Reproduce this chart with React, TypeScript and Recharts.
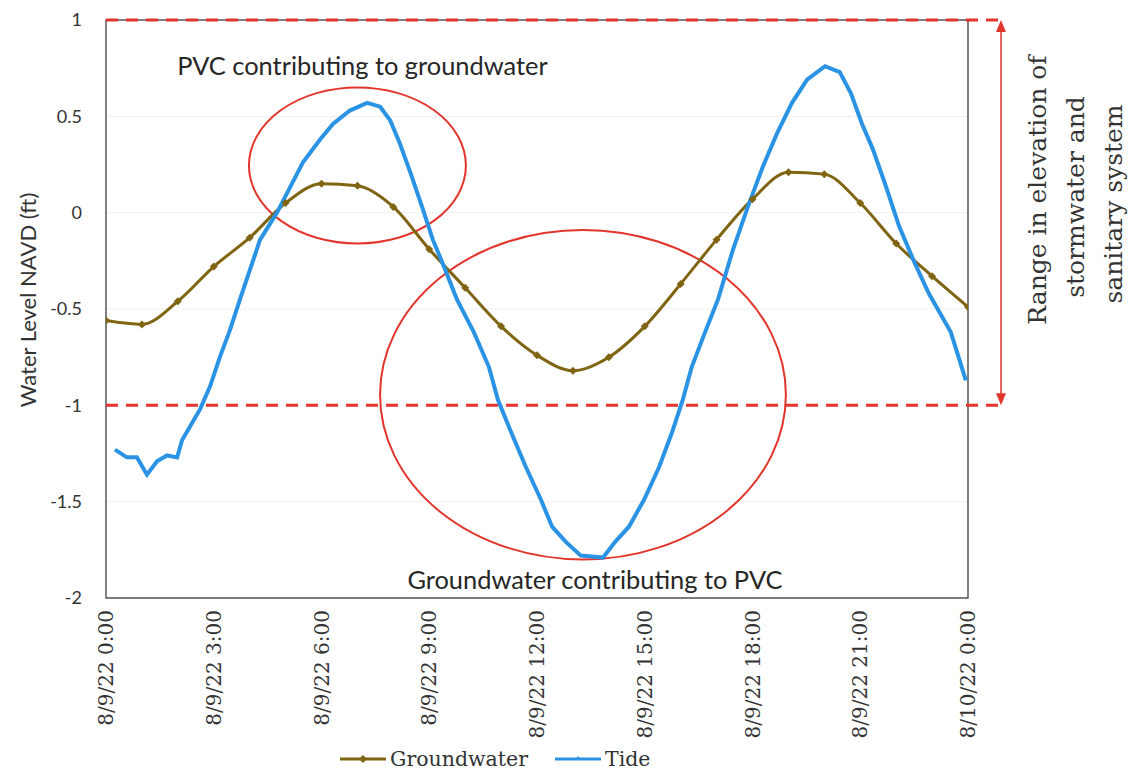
import {
  CartesianGrid,
  Legend,
  Line,
  LineChart,
  ReferenceArea,
  XAxis,
  YAxis,
} from "recharts";

// hourly groundwater level, ft NAVD
const gwHours = [
  0, 1, 2, 3, 4, 5, 6, 7, 8, 9, 10, 11, 12, 13, 14, 15, 16, 17, 18, 19, 20, 21,
  22, 23, 24,
];
const gwLevels = [
  -0.56, -0.58, -0.46, -0.28, -0.13, 0.05, 0.15, 0.14, 0.03, -0.19, -0.39,
  -0.59, -0.74, -0.82, -0.75, -0.59, -0.37, -0.14, 0.07, 0.21, 0.2, 0.05,
  -0.16, -0.33, -0.49,
];

// tide readings (hours since 8/9/22 0:00)
const tideHours = [
  0.25, 0.58, 0.86, 1.14, 1.42, 1.7, 1.98, 2.12, 2.34, 2.62, 2.9, 3.17, 3.45,
  3.73, 4.29, 4.76, 5.12, 5.48, 5.96, 6.32, 6.79, 7.27, 7.63, 7.91, 8.18, 8.49,
  8.8, 9.1, 9.41, 9.77, 10.24, 10.66, 10.91, 11.28, 11.69, 12.11, 12.42, 12.81,
  13.22, 13.84, 14.17, 14.56, 14.98, 15.4, 15.76, 16.06, 16.31, 16.68, 17.04,
  17.46, 17.87, 18.29, 18.68, 19.1, 19.52, 20.02, 20.43, 20.74, 21.05, 21.35,
  21.69, 22.08, 22.49, 22.91, 23.52, 23.94,
];
const tideLevels = [
  -1.23, -1.27, -1.27, -1.36, -1.29, -1.26, -1.27, -1.18, -1.11, -1.02, -0.9,
  -0.75, -0.61, -0.45, -0.14, 0.0, 0.13, 0.26, 0.38, 0.46, 0.53, 0.57, 0.55,
  0.48, 0.36, 0.2, 0.03, -0.14, -0.28, -0.45, -0.62, -0.8, -0.97, -1.14, -1.32,
  -1.49, -1.63, -1.71, -1.78, -1.79, -1.71, -1.63, -1.49, -1.32, -1.14, -0.97,
  -0.8, -0.62, -0.45, -0.19, 0.03, 0.24, 0.41, 0.57, 0.69, 0.76, 0.73, 0.62,
  0.46, 0.33, 0.15, -0.07, -0.25, -0.42, -0.62, -0.87,
];

const xTicks = [0, 3, 6, 9, 12, 15, 18, 21, 24];
const xTickLabels = [
  "8/9/22 0:00",
  "8/9/22 3:00",
  "8/9/22 6:00",
  "8/9/22 9:00",
  "8/9/22 12:00",
  "8/9/22 15:00",
  "8/9/22 18:00",
  "8/9/22 21:00",
  "8/10/22 0:00",
];
const yTicks = [-2, -1.5, -1, -0.5, 0, 0.5, 1];

// annotation zones (hours / ft)
const pvcZone = { x1: 3.98, x2: 10.02, y1: -0.16, y2: 0.65 };
const gwZone = { x1: 7.63, x2: 18.93, y1: -1.8, y2: -0.09 };
const rangeBand = { y1: -1, y2: 1 };

const gwData = gwHours.map((h, i) => ({ h, level: gwLevels[i] }));
const tideData = tideHours.map((h, i) => ({ h, level: tideLevels[i] }));

const GW = "#7f6412";
const TIDE = "#2a93e3";
const RED = "#e2352c";
const SANS = "Lato, sans-serif";
const SERIF = "'DejaVu Serif', serif";

const Diamond = (props: any) => {
  const { cx, cy } = props;
  if (cx == null || cy == null) return null;
  return (
    <polygon
      points={`${cx},${cy - 4} ${cx + 4},${cy} ${cx},${cy + 4} ${cx - 4},${cy}`}
      fill={GW}
    />
  );
};

const XTick = (props: any) => {
  const { x, y, payload } = props;
  const label = xTickLabels[xTicks.indexOf(payload.value)];
  return (
    <text
      x={x}
      y={y}
      transform={`rotate(-90, ${x}, ${y})`}
      textAnchor="end"
      dy="0.35em"
      fontFamily={SERIF}
      fontSize={20}
      fill="#333"
    >
      {label}
    </text>
  );
};

const ellipseShape =
  (text: string, below: boolean, dx: number) => (p: any) => {
    const { x, y, width, height } = p;
    const cx = x + width / 2;
    return (
      <g>
        <ellipse
          cx={cx}
          cy={y + height / 2}
          rx={width / 2}
          ry={height / 2}
          fill="none"
          stroke={RED}
          strokeWidth={2}
        />
        <text
          x={cx + dx}
          y={below ? y + height + 30 : y - 12}
          textAnchor="middle"
          fontFamily={SANS}
          fontSize={25.4}
          fill="#262626"
        >
          {text}
        </text>
      </g>
    );
  };

const rangeShape = (p: any) => {
  const { x, y, width, height } = p;
  const ax = x + width + 33;
  const bottom = y + height;
  return (
    <g>
      <line x1={x} y1={y} x2={ax} y2={y} stroke={RED} strokeWidth={3} strokeDasharray="12 8" />
      <line x1={x} y1={bottom} x2={ax} y2={bottom} stroke={RED} strokeWidth={3} strokeDasharray="12 8" />
      <line x1={ax} y1={y + 8} x2={ax} y2={bottom - 8} stroke={RED} strokeWidth={1.5} />
      <polygon points={`${ax},${y} ${ax - 5},${y + 12} ${ax + 5},${y + 12}`} fill={RED} />
      <polygon points={`${ax},${bottom} ${ax - 5},${bottom - 12} ${ax + 5},${bottom - 12}`} fill={RED} />
      {["Range in elevation of", "stormwater  and", "sanitary system"].map((t, i) => {
        const tx = ax + 36 + i * 38;
        const ty = y + 170 + i * 7;
        return (
          <text
            key={t}
            x={tx}
            y={ty}
            transform={`rotate(-90, ${tx}, ${ty})`}
            textAnchor="middle"
            dy="0.35em"
            fontFamily={SERIF}
            fontSize={25}
            fill="#333"
          >
            {t}
          </text>
        );
      })}
    </g>
  );
};

const boxShape = (p: any) => (
  <rect x={p.x} y={p.y} width={p.width} height={p.height} fill="none" stroke="#555" strokeWidth={1.5} />
);

const renderLegend = () => (
  <div style={{ display: "flex", alignItems: "center", fontFamily: SERIF, fontSize: 20.5, color: "#333" }}>
    <svg width={46} height={12} style={{ marginRight: 4 }}>
      <line x1={0} y1={6} x2={46} y2={6} stroke={GW} strokeWidth={3} />
      <polygon points="23,2 27,6 23,10 19,6" fill={GW} />
    </svg>
    <span style={{ marginRight: 27 }}>Groundwater</span>
    <svg width={46} height={12} style={{ marginRight: 4 }}>
      <line x1={0} y1={6} x2={46} y2={6} stroke={TIDE} strokeWidth={3} />
      <polygon points="23,3 26,7 20,7" fill={TIDE} />
    </svg>
    <span>Tide</span>
  </div>
);

const YLabel = (props: any) => {
  const { viewBox } = props;
  const x = viewBox.x + 28;
  const y = viewBox.y + viewBox.height / 2 - 9;
  return (
    <text
      x={x}
      y={y}
      transform={`rotate(-90, ${x}, ${y})`}
      textAnchor="middle"
      dy="0.35em"
      fontFamily={SANS}
      fontSize={22}
      fill="#333"
    >
      Water Level  NAVD (ft)
    </text>
  );
};

export default function App() {
  return (
    <div style={{ position: "absolute", left: 0, top: 0, background: "#fff" }}>
      <LineChart
        width={1139}
        height={774}
        margin={{ top: 20, right: 171, bottom: 0, left: 0 }}
      >
        <CartesianGrid horizontal vertical={false} stroke="#f0f0f0" />
        <XAxis
          dataKey="h"
          type="number"
          domain={[0, 24]}
          ticks={xTicks}
          height={176}
          axisLine={false}
          tickLine={false}
          tickSize={0}
          tickMargin={12}
          tick={<XTick />}
          allowDataOverflow
        />
        <YAxis
          type="number"
          domain={[-2, 1]}
          ticks={yTicks}
          width={106}
          axisLine={false}
          tickLine={false}
          tickSize={0}
          tickMargin={24}
          tick={{ fill: "#333", fontSize: 18, fontFamily: SANS }}
          label={<YLabel />}
        />
        <ReferenceArea x1={0} x2={24} y1={-2} y2={1} shape={boxShape} ifOverflow="visible" />
        <Line
          data={gwData}
          dataKey="level"
          name="Groundwater"
          type="monotone"
          stroke={GW}
          strokeWidth={3}
          dot={<Diamond />}
          activeDot={false}
          isAnimationActive={false}
        />
        <Line
          data={tideData}
          dataKey="level"
          name="Tide"
          type="linear"
          stroke={TIDE}
          strokeWidth={4}
          dot={false}
          activeDot={false}
          isAnimationActive={false}
        />
        <ReferenceArea
          {...pvcZone}
          ifOverflow="visible"
          shape={ellipseShape("PVC contributing to groundwater", false, 5)}
        />
        <ReferenceArea
          {...gwZone}
          ifOverflow="visible"
          shape={ellipseShape("Groundwater contributing to PVC", true, 12)}
        />
        <ReferenceArea x1={0} x2={24} {...rangeBand} ifOverflow="visible" shape={rangeShape} />
        <Legend
          verticalAlign="middle"
          align="center"
          content={renderLegend}
          wrapperStyle={{ top: 747, left: 340, width: 340 }}
        />
      </LineChart>
    </div>
  );
}
